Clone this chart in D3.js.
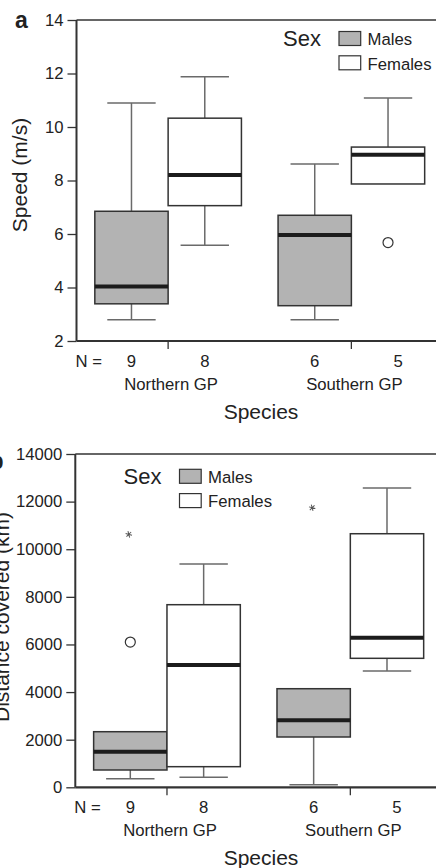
<!DOCTYPE html>
<html>
<head>
<meta charset="utf-8">
<script src="https://cdn.jsdelivr.net/npm/d3@7"></script>
<style>
  body { margin: 0; background: #fff; }
  text { font-family: "Liberation Sans", Arial, Helvetica, sans-serif; fill: #222; }
</style>
</head>
<body>
<div id="chart"></div>
<script>
"use strict"

// groups, in drawing order: Northern males, Northern females, Southern males, Southern females
let categories = ["Northern GP", "Southern GP"];
let sexes = ["Males", "Females"];
let sampleN = [9, 8, 6, 5];

// panel a: speed (m/s)
let speedTicks = [2, 4, 6, 8, 10, 12, 14];
let speedLow = [2.79, 5.58, 2.79, 7.87];
let speedQ1 = [3.39, 7.06, 3.32, 7.87];
let speedMedian = [4.04, 8.21, 5.96, 8.96];
let speedQ3 = [6.85, 10.33, 6.70, 9.25];
let speedHigh = [10.9, 11.88, 8.62, 11.08];
let speedOutliers = [
    { group: 3, value: 5.68, kind: "circle" }
];

// panel b: distance covered (km)
let distTicks = [0, 2000, 4000, 6000, 8000, 10000, 12000, 14000];
let distLow = [361, 420, 109, 4884];
let distQ1 = [727, 866, 2113, 5418];
let distMedian = [1495, 5137, 2814, 6283];
let distQ3 = [2335, 7670, 4141, 10651];
let distHigh = [2335, 9378, 4141, 12570];
let distOutliers = [
    { group: 0, value: 6100, kind: "circle" },
    { group: 0, value: 10625, kind: "star" },
    { group: 2, value: 11743, kind: "star" }
];

let drawing = d3.select("#chart")
    .append("svg")
    .attr("width", 436)
    .attr("height", 868);

let lineDark = "#333";
let lineGray = "#6a6a6a";
let maleFill = "#b3b3b3";

drawPanel({
    left: 76.5, right: 443, top: 20, bottom: 341,
    domain: [2, 14], ticks: speedTicks,
    low: speedLow, q1: speedQ1, median: speedMedian, q3: speedQ3, high: speedHigh,
    outliers: speedOutliers,
    letter: "a", letterX: 15, letterY: 28,
    yLabel: "Speed (m/s)", yLabelX: 27, yLabelY: 175,
    legendX: 283, legendY: 31.5
});

drawPanel({
    left: 75.3, right: 442, top: 454, bottom: 787.3,
    domain: [0, 14000], ticks: distTicks,
    low: distLow, q1: distQ1, median: distMedian, q3: distQ3, high: distHigh,
    outliers: distOutliers,
    letter: "b", letterX: -10.5, letterY: 469,
    yLabel: "Distance covered (km)", yLabelX: 9, yLabelY: 617,
    legendX: 123.5, legendY: 469.3
});

function drawPanel(p) {

    let g = drawing.append("g");

    let x = d3.scaleBand()
        .domain(categories)
        .range([p.left, p.right])
        .paddingInner(0)
        .paddingOuter(0);

    let xSex = d3.scaleBand()
        .domain(sexes)
        .range([0, x.bandwidth()])
        .paddingInner(0)
        .paddingOuter(0.25);

    let y = d3.scaleLinear()
        .domain(p.domain)
        .range([p.bottom, p.top]);

    let bw = xSex.bandwidth();
    let capW = bw * 0.66;

    // one record for every box, read from the arrays
    let boxes = sampleN.map(function (n, i) {
        let cat = categories[Math.floor(i / 2)];
        let sex = sexes[i % 2];
        return {
            n: n, sex: sex,
            x0: x(cat) + xSex(sex),
            cx: x(cat) + xSex(sex) + bw / 2,
            low: p.low[i], q1: p.q1[i], median: p.median[i], q3: p.q3[i], high: p.high[i]
        };
    });

    // y axis
    let yAxis = d3.axisLeft(y)
        .tickValues(p.ticks)
        .tickFormat(d3.format("d"))
        .tickSize(9)
        .tickPadding(4);

    let axisG = g.append("g")
        .attr("transform", "translate(" + p.left + ",0)")
        .call(yAxis);
    axisG.select(".domain").remove();
    axisG.selectAll(".tick line").attr("stroke", lineDark).attr("stroke-width", 1.3);
    axisG.selectAll(".tick text")
        .attr("font-size", "16.7px")
        .attr("fill", "#222")
        .style("font-family", "'Liberation Sans', Arial, sans-serif");

    // whiskers (drawn under the boxes)
    boxes.forEach(function (b) {
        if (b.high > b.q3) {
            g.append("line")
                .attr("x1", b.cx).attr("x2", b.cx)
                .attr("y1", y(b.q3)).attr("y2", y(b.high))
                .attr("stroke", lineGray).attr("stroke-width", 1.5);
            g.append("line")
                .attr("x1", b.cx - capW / 2).attr("x2", b.cx + capW / 2)
                .attr("y1", y(b.high)).attr("y2", y(b.high))
                .attr("stroke", lineGray).attr("stroke-width", 1.5);
        }
        if (b.low < b.q1) {
            g.append("line")
                .attr("x1", b.cx).attr("x2", b.cx)
                .attr("y1", y(b.q1)).attr("y2", y(b.low))
                .attr("stroke", lineGray).attr("stroke-width", 1.5);
            g.append("line")
                .attr("x1", b.cx - capW / 2).attr("x2", b.cx + capW / 2)
                .attr("y1", y(b.low)).attr("y2", y(b.low))
                .attr("stroke", lineGray).attr("stroke-width", 1.5);
        }
    });

    // boxes
    g.selectAll(".box")
        .data(boxes)
        .enter()
        .append("rect")
        .attr("class", "box")
        .attr("x", d => d.x0)
        .attr("y", d => y(d.q3))
        .attr("width", bw)
        .attr("height", d => y(d.q1) - y(d.q3))
        .attr("fill", d => d.sex == "Males" ? maleFill : "#fff")
        .attr("stroke", lineDark)
        .attr("stroke-width", 1.5);

    // medians
    g.selectAll(".median")
        .data(boxes)
        .enter()
        .append("line")
        .attr("class", "median")
        .attr("x1", d => d.x0)
        .attr("x2", d => d.x0 + bw)
        .attr("y1", d => y(d.median))
        .attr("y2", d => y(d.median))
        .attr("stroke", "#1c1c1c")
        .attr("stroke-width", 4);

    // outliers and extremes
    p.outliers.forEach(function (o) {
        let b = boxes[o.group];
        if (o.kind == "circle") {
            g.append("circle")
                .attr("cx", b.cx)
                .attr("cy", y(o.value))
                .attr("r", 5)
                .attr("fill", "#fff")
                .attr("stroke", lineDark)
                .attr("stroke-width", 1.2);
        } else {
            g.append("path")
                .attr("d", d3.symbol(d3.symbolAsterisk).size(30)())
                .attr("transform", "translate(" + (b.cx - 1.5) + "," + y(o.value) + ") rotate(45)")
                .attr("fill", "none")
                .attr("stroke", "#555")
                .attr("stroke-width", 1);
        }
    });

    // frame: left, top and bottom lines (right side runs off the page)
    g.append("line")
        .attr("x1", p.left).attr("x2", p.left)
        .attr("y1", p.top).attr("y2", p.bottom)
        .attr("stroke", lineDark).attr("stroke-width", 2);
    g.append("line")
        .attr("x1", p.left).attr("x2", p.right)
        .attr("y1", p.top).attr("y2", p.top)
        .attr("stroke", lineDark).attr("stroke-width", 1.7);
    g.append("line")
        .attr("x1", p.left).attr("x2", p.right)
        .attr("y1", p.bottom).attr("y2", p.bottom)
        .attr("stroke", lineDark).attr("stroke-width", 2.2);

    // category ticks under the axis
    categories.forEach(function (c) {
        g.append("line")
            .attr("x1", x(c) + x.bandwidth() / 2).attr("x2", x(c) + x.bandwidth() / 2)
            .attr("y1", p.bottom).attr("y2", p.bottom + 8)
            .attr("stroke", lineDark).attr("stroke-width", 1.3);
    });

    // N = row
    g.append("text")
        .attr("x", p.left - 1)
        .attr("y", p.bottom + 25.5)
        .attr("font-size", "16.7px")
        .text("N =");

    g.selectAll(".nlabel")
        .data(boxes)
        .enter()
        .append("text")
        .attr("class", "nlabel")
        .attr("x", (d, i) => d.cx + (i == 3 ? 10 : 0))
        .attr("y", p.bottom + 25.5)
        .attr("text-anchor", "middle")
        .attr("font-size", "16.7px")
        .text(d => d.n);

    g.selectAll(".catlabel")
        .data(categories)
        .enter()
        .append("text")
        .attr("class", "catlabel")
        .attr("x", d => x(d) + x.bandwidth() / 2 + 3)
        .attr("y", p.bottom + 48.5)
        .attr("text-anchor", "middle")
        .attr("font-size", "16.7px")
        .text(d => d);

    g.append("text")
        .attr("x", 261)
        .attr("y", p.bottom + 77.5)
        .attr("text-anchor", "middle")
        .attr("font-size", "21px")
        .text("Species");

    // y label
    g.append("text")
        .attr("transform", "translate(" + p.yLabelX + "," + p.yLabelY + ") rotate(-90)")
        .attr("text-anchor", "middle")
        .attr("font-size", "21px")
        .text(p.yLabel);

    // panel letter
    g.append("text")
        .attr("x", p.letterX)
        .attr("y", p.letterY)
        .attr("font-size", "23px")
        .attr("font-weight", "bold")
        .attr("fill", "#111")
        .text(p.letter);

    // legend
    g.append("text")
        .attr("x", p.legendX)
        .attr("y", p.legendY + 14.5)
        .attr("font-size", "22px")
        .text("Sex");

    sexes.forEach(function (s, i) {
        g.append("rect")
            .attr("x", p.legendX + 56)
            .attr("y", p.legendY + i * 24.3)
            .attr("width", 21.7)
            .attr("height", 14)
            .attr("fill", s == "Males" ? maleFill : "#fff")
            .attr("stroke", lineDark)
            .attr("stroke-width", 1.2);
        g.append("text")
            .attr("x", p.legendX + 84.5)
            .attr("y", p.legendY + 13.8 + i * 24.3)
            .attr("font-size", "16.7px")
            .text(s);
    });
}
</script>
</body>
</html>
